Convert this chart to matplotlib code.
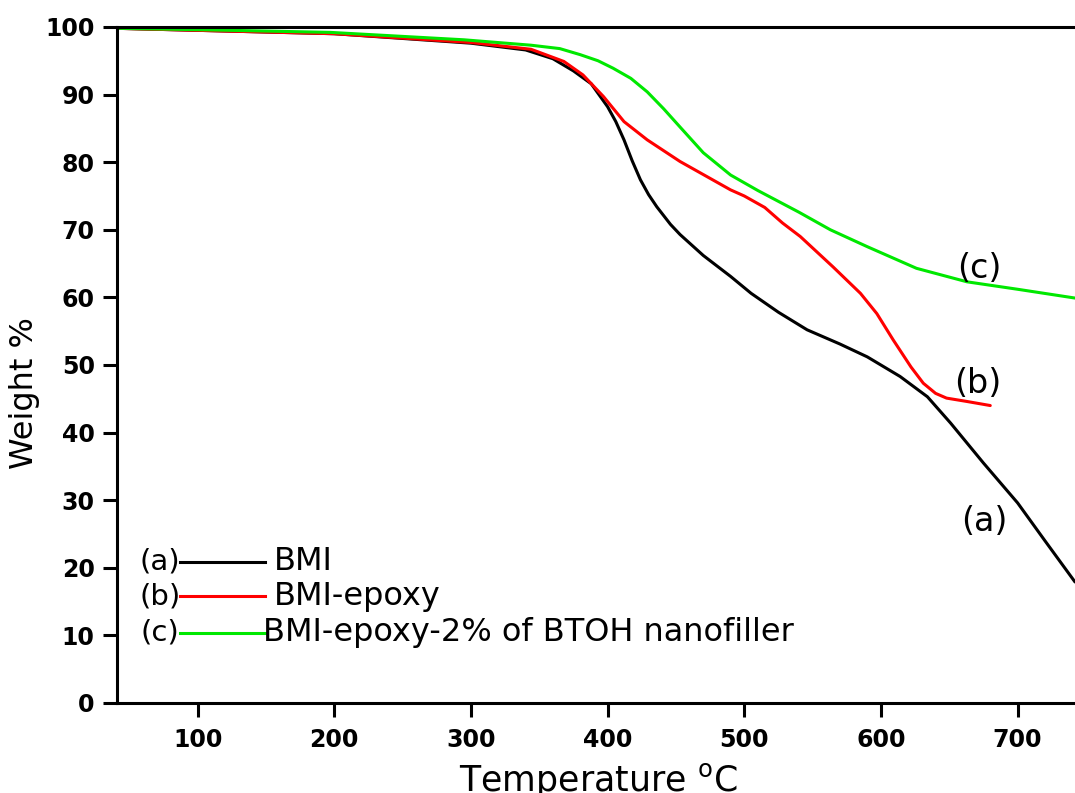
import numpy as np
import matplotlib
matplotlib.use("Agg")
import matplotlib.pyplot as plt
from matplotlib.lines import Line2D

# ============================================================
# Data
# ============================================================
bmi_temp = [41, 100, 200, 300, 340, 360, 375, 388, 400, 406, 412, 418, 424, 430, 436,
            446, 453, 470, 490, 505, 525, 546, 570, 590, 614, 634, 651, 675, 700,
            720, 742]
bmi_weight = [99.8, 99.5, 99.0, 97.6, 96.6, 95.3, 93.5, 91.6, 88.2, 86.0, 83.3, 80.2,
              77.4, 75.2, 73.4, 70.8, 69.3, 66.2, 63.1, 60.6, 57.8, 55.2, 53.1, 51.2,
              48.3, 45.3, 41.4, 35.5, 29.6, 24.0, 17.9]

epoxy_temp = [41, 100, 200, 300, 344, 368, 382, 397, 412, 429, 453, 490, 500, 515,
              528, 541, 565, 585, 597, 609, 622, 631, 640, 648, 663, 680]
epoxy_weight = [99.8, 99.5, 99.0, 97.7, 96.7, 94.9, 92.9, 89.7, 86.0, 83.3, 80.1, 75.9,
                75.0, 73.3, 71.0, 69.0, 64.5, 60.6, 57.6, 53.7, 49.7, 47.3, 45.8, 45.1,
                44.6, 44.0]

nano_temp = [41, 100, 197, 295, 344, 365, 380, 393, 404, 417, 429, 441, 453, 470, 490,
             510, 540, 563, 590, 626, 663, 700, 742]
nano_weight = [99.8, 99.6, 99.2, 98.1, 97.3, 96.8, 95.9, 95.0, 93.9, 92.4, 90.4, 87.9,
               85.2, 81.4, 78.1, 75.8, 72.6, 70.0, 67.5, 64.3, 62.3, 61.2, 59.9]

series_tags = ["(a)", "(b)", "(c)"]
series_names = ["BMI", "BMI-epoxy", "BMI-epoxy-2% of BTOH nanofiller"]
series_colors = ["black", "#ff0000", "#00e800"]

# in-plot tag positions (temperature, weight)
tag_pos = [(676, 26.8), (671, 47.3), (672, 64.3)]

x_ticks = [100, 200, 300, 400, 500, 600, 700]
y_ticks = [0, 10, 20, 30, 40, 50, 60, 70, 80, 90, 100]

FONT = "DejaVu Sans"

# ============================================================
# Figure
# ============================================================
fig = plt.figure(figsize=(10.75, 7.93), dpi=100)
ax = fig.add_axes([0.1088, 0.1135, 0.8912, 0.8525])

curves = [(bmi_temp, bmi_weight), (epoxy_temp, epoxy_weight), (nano_temp, nano_weight)]
for (t, w), c in zip(curves, series_colors):
    ax.plot(t, w, color=c, lw=2.2, solid_capstyle="round", solid_joinstyle="round")

ax.set_xlim(41, 742)
ax.set_ylim(0, 100)
ax.set_xticks(x_ticks)
ax.set_yticks(y_ticks)

for side in ["left", "bottom", "top"]:
    ax.spines[side].set_linewidth(2.2)
ax.spines["right"].set_visible(False)

ax.tick_params(axis="both", direction="out", length=10, width=2.2)
ax.tick_params(axis="y", pad=6)
ax.tick_params(axis="x", pad=8)
for lab in ax.get_xticklabels() + ax.get_yticklabels():
    lab.set_fontfamily(FONT)
    lab.set_fontsize(17)
    lab.set_fontweight("bold")

# axis labels
ax.text(-0.096, 0.459, "Weight %", transform=ax.transAxes, rotation=90,
        ha="center", va="center", fontsize=23, family=FONT)
fig.text(598 / 1075, 0.0025, r"Temperature $^{\mathregular{o}}$C", ha="center",
         va="baseline", fontsize=25, family=FONT)

# in-plot tags
for tag, (tx, ty) in zip(series_tags, tag_pos):
    ax.text(tx, ty, tag, ha="center", va="center", fontsize=24, family=FONT)

# hand-made legend: "(a)----- BMI"
leg_y = [0.2086, 0.158, 0.1036]
for i, (tag, name, c) in enumerate(zip(series_tags, series_names, series_colors)):
    y = leg_y[i]
    ax.text(0.0449, y, tag, transform=ax.transAxes, ha="center", va="center",
            fontsize=21, family=FONT)
    ax.add_line(Line2D([0.0658, 0.1545], [y, y], transform=ax.transAxes,
                       color=c, lw=2.2))
    x_txt = 0.1524 if i == 2 else 0.1639
    ax.text(x_txt, y, name, transform=ax.transAxes, ha="left", va="center",
            fontsize=23, family=FONT)

fig.savefig("out.png", dpi=100)
